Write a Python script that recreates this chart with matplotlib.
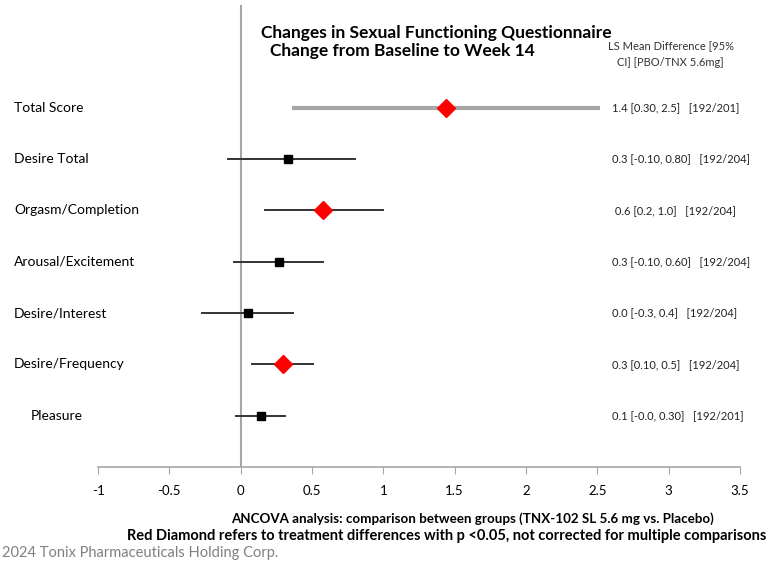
import matplotlib
matplotlib.use("Agg")
from matplotlib import pyplot as plt

# values
labels = ["Total Score", "Desire Total", "Orgasm/Completion", "Arousal/Excitement",
          "Desire/Interest", "Desire/Frequency", "Pleasure"]
means = [1.44, 0.33, 0.58, 0.27, 0.05, 0.30, 0.14]
lows = [0.36, -0.09, 0.17, -0.05, -0.27, 0.08, -0.03]
highs = [2.52, 0.80, 1.00, 0.58, 0.37, 0.51, 0.31]
significant = [True, False, True, False, False, True, False]
value_text = ["1.4 [0.30, 2.5]   [192/201]", "0.3 [-0.10, 0.80]   [192/204]",
              " 0.6 [0.2, 1.0]   [192/204]", "0.3 [-0.10, 0.60]   [192/204]",
              "0.0 [-0.3, 0.4]   [192/204]", "0.3 [0.10, 0.5]   [192/204]",
              "0.1 [-0.0, 0.30]   [192/201]"]
xticks = [-1, -0.5, 0, 0.5, 1, 1.5, 2, 2.5, 3, 3.5]
xticklabels = ["-1", "-0.5", "0", "0.5", "1", "1.5", "2", "2.5", "3", "3.5"]

plt.rcParams['font.family'] = ['Lato', 'DejaVu Sans']

fig = plt.figure(figsize=(7.78, 5.62), dpi=100)
ax = fig.add_axes([0.126, 0.169, 0.825, 0.822])
ax.set_xlim(-1, 3.5)
ax.set_ylim(0, 9)

ypos = list(range(len(labels), 0, -1))

for i, y in enumerate(ypos):
    if i == 0:
        ax.plot([lows[i], highs[i]], [y, y], color='#a6a6a6', lw=3, solid_capstyle='butt', zorder=2)
    else:
        ax.plot([lows[i], highs[i]], [y, y], color='#333333', lw=1.4, zorder=2)
    if significant[i]:
        ax.plot(means[i], y, marker='D', color='#ff0000', markersize=9, zorder=3)
    else:
        ax.plot(means[i], y, marker='s', color='black', markersize=5.5, zorder=3)
    # category label on the left, value text on the right
    fy = ax.transData.transform((0, y))[1] / fig.bbox.height
    lx = 0.040 if labels[i] == "Pleasure" else 0.018
    fig.text(lx, fy, labels[i], fontsize=10, va='center', ha='left')
    fig.text(0.786, fy, value_text[i], fontsize=8, va='center', ha='left', color='#222222')

ax.axvline(0, color='#a6a6a6', lw=1.5, zorder=1)

for s in ['top', 'right', 'left']:
    ax.spines[s].set_visible(False)
ax.spines['bottom'].set_color('#a6a6a6')
ax.spines['bottom'].set_linewidth(1.2)
ax.set_yticks([])
ax.set_xticks(xticks)
ax.set_xticklabels(xticklabels, fontsize=9.5)
ax.tick_params(axis='x', length=5, color='#a6a6a6', pad=8)

# titles
fig.text(0.335, 0.942, "Changes in Sexual Functioning Questionnaire", fontsize=12.5,
         fontweight='bold', ha='left', va='center')
fig.text(0.347, 0.909, "Change from Baseline to Week 14", fontsize=12.5,
         fontweight='bold', ha='left', va='center')
fig.text(0.862, 0.918, "LS Mean Difference [95%", fontsize=8, ha='center', va='center',
         color='#333333')
fig.text(0.862, 0.888, "CI] [PBO/TNX 5.6mg]", fontsize=8, ha='center', va='center',
         color='#333333')

# footnotes
fig.text(0.607, 0.078, "ANCOVA analysis: comparison between groups (TNX-102 SL 5.6 mg vs. Placebo)",
         fontsize=9.6, fontweight='bold', ha='center', va='center')
fig.text(0.574, 0.046, "Red Diamond refers to treatment differences with p <0.05, not corrected for multiple comparisons",
         fontsize=10.5, fontweight='bold', ha='center', va='center')
fig.text(0.002, 0.016, "2024 Tonix Pharmaceuticals Holding Corp.", fontsize=10.5,
         color='#808080', ha='left', va='center')

plt.savefig('out.png', dpi=100)
